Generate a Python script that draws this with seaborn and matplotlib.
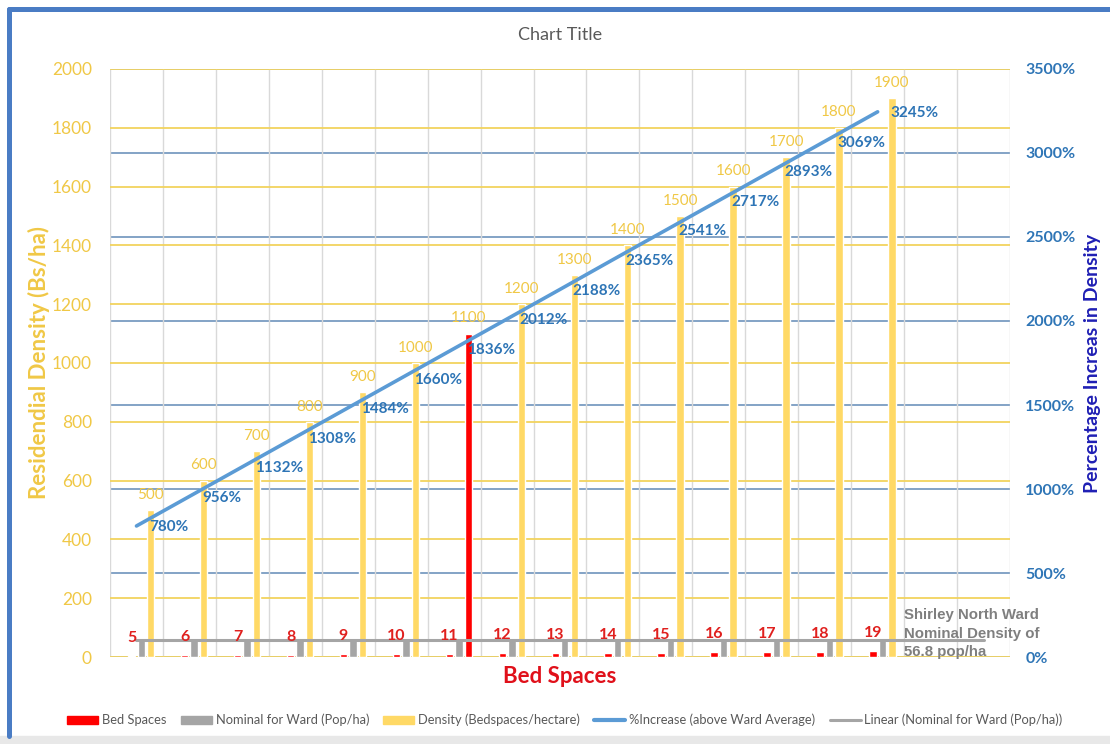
import numpy as np
import pandas as pd
import matplotlib
matplotlib.use('Agg')
import matplotlib.pyplot as plt
from matplotlib.patches import Patch, Rectangle
from matplotlib.lines import Line2D
import seaborn as sns

# data
beds = [5, 6, 7, 8, 9, 10, 11, 12, 13, 14, 15, 16, 17, 18, 19]
density = [500, 600, 700, 800, 900, 1000, 1100, 1200, 1300, 1400, 1500, 1600, 1700, 1800, 1900]
pct_increase = [780, 956, 1132, 1308, 1484, 1660, 1836, 2012, 2188, 2365, 2541, 2717, 2893, 3069, 3245]
nominal_ward = 56.8
highlight_bed = 11
extra_cats = ['20', '21']   # empty slots at the right end of the axis

series_names = ['Bed Spaces', 'Nominal for Ward (Pop/ha)', 'Density (Bedspaces/hectare)']
line_name = '%Increase (above Ward Average)'
trend_name = 'Linear (Nominal for Ward (Pop/ha))'
note_lines = ['Shirley North Ward', 'Nominal Density of', '56.8 pop/ha']

RED = '#FF0000'
GRAY = '#A5A5A5'
YELLOW = '#FFD966'
BLUE = '#5B9BD5'
YEL_TXT = '#F0C846'
PCT_TXT = '#2E75B6'

cats = [str(b) for b in beds]
all_cats = cats + extra_cats

df = pd.DataFrame({
    'cat': cats * 3,
    'series': np.repeat(series_names, len(beds)),
    'value': beds + [nominal_ward] * len(beds) + density,
})

sns.set_style('white')
plt.rcParams['font.family'] = ['Lato', 'DejaVu Sans']

fig = plt.figure(figsize=(11.1, 7.44), dpi=100)
ax = fig.add_axes([0.0991, 0.1169, 0.8108, 0.7904])
ax3 = ax.twinx()   # only carries the right-axis grid, behind the bars
ax2 = ax.twinx()
ax3.set_zorder(0)
ax.set_zorder(1)
ax2.set_zorder(2)
ax.patch.set_visible(False)
ax2.patch.set_visible(False)

sns.barplot(data=df, x='cat', y='value', hue='series', order=all_cats,
            hue_order=series_names, palette=[RED, GRAY, YELLOW],
            width=0.54, saturation=1, legend=False, ax=ax)

# slimmer bars with gaps, group nudged right like Excel
for cont in ax.containers:
    for bar in cont:
        c = bar.get_x() + bar.get_width() / 2 + 0.09
        bar.set_width(0.14)
        bar.set_x(c - 0.07)

hi = cats.index(str(highlight_bed))
ax.containers[2][hi].set_facecolor(RED)

# trend line of the nominal density
sns.pointplot(x=all_cats, y=[nominal_ward] * len(all_cats), order=all_cats,
              color=GRAY, markers='', errorbar=None, linewidth=2.2, ax=ax)

# % increase line
sns.pointplot(x=cats, y=pct_increase, order=all_cats, color=BLUE,
              markers='', errorbar=None, linewidth=2.6, ax=ax2)

# labels
for bar in ax.containers[0]:
    ax.annotate(f'{bar.get_height():.0f}', (bar.get_x() + bar.get_width() / 2, bar.get_height()),
                xytext=(0, 13), textcoords='offset points', ha='center', va='center',
                color='#E0201E', fontsize=11.5, fontweight='bold')
for bar in ax.containers[2]:
    ax.annotate(f'{bar.get_height():.0f}', (bar.get_x() + bar.get_width() / 2, bar.get_height()),
                xytext=(0, 11), textcoords='offset points', ha='center', va='center',
                color=YEL_TXT, fontsize=11)
for x, y in ax2.lines[0].get_xydata():
    if np.isnan(y):
        continue
    ax2.annotate(f'{y:.0f}%', (x, y), xytext=(9, -1), textcoords='offset points',
                 ha='left', va='center', color=PCT_TXT, fontsize=11, fontweight='bold')

for k, line in enumerate(note_lines):
    ax.annotate(line, (14.5, 80), xytext=(0, 13.3 * (1 - k)), textcoords='offset points',
                ha='left', va='center', color='#7F7F7F', fontsize=10.8,
                fontweight='bold', family='Liberation Sans')

# axes
ax.set_ylim(0, 2000)
ax.set_yticks(np.arange(0, 2001, 200))
ax2.set_ylim(0, 3500)
ax2.set_yticks(np.arange(0, 3501, 500))
ax2.set_yticklabels([f'{v}%' for v in range(0, 3501, 500)])
ax3.set_ylim(0, 3500)
ax3.set_yticks(np.arange(0, 3501, 500))
ax3.set_yticklabels([])

n = len(all_cats)
for a in (ax, ax2, ax3):
    a.set_xlim(-0.5, n - 0.5)
    for s in a.spines.values():
        s.set_visible(False)
ax.set_xticks([])
ax.set_xticks(np.arange(n + 1) - 0.5, minor=True)
ax.tick_params(which='both', length=0)
ax.tick_params(axis='y', colors=YEL_TXT, labelsize=12.5, pad=13)
ax2.tick_params(axis='y', length=0, colors=PCT_TXT, labelsize=11.5, pad=11)
for t in ax2.get_yticklabels():
    t.set_fontweight('bold')
ax3.tick_params(length=0)

ax.set_axisbelow(True)
ax.grid(False)
ax.yaxis.grid(True, color='#F2D35E', lw=1.3)
ax.xaxis.grid(True, which='minor', color='#D9D9D9', lw=1)
ax3.grid(False)
ax3.yaxis.grid(True, color='#7A9CC2', lw=1.3)
ax2.grid(False)

ax.set_xlabel('Bed Spaces', color='#E0101A', fontsize=16, fontweight='bold', labelpad=3)
ax.set_ylabel('Residendial Density (Bs/ha)', color=YEL_TXT, fontsize=16,
              fontweight='bold', labelpad=1)
ax2.set_ylabel('Percentage Increas in Density', color='#1F1FB4', fontsize=14,
               fontweight='bold', labelpad=6)
ax2.set_xlabel('')

fig.text(0.505, 1 - 35 / 744, 'Chart Title', ha='center', va='center',
         color='#595959', fontsize=13)

handles = [Patch(color=RED), Patch(color=GRAY), Patch(color=YELLOW),
           Line2D([], [], color=BLUE, lw=3), Line2D([], [], color=GRAY, lw=2.2)]
fig.legend(handles, series_names + [line_name, trend_name], loc='center',
           bbox_to_anchor=(0.509, 1 - 720 / 744), ncol=5, frameon=False,
           fontsize=9.3, labelcolor='#595959', handlelength=2.4, handleheight=0.55,
           columnspacing=1.1, handletextpad=0.3)

# outer frame bits of the screenshot
fig.add_artist(Rectangle((0, 0), 1, 8 / 744, transform=fig.transFigure,
                         color='#E8E8E8', zorder=0))
fig.add_artist(Line2D([8.5 / 1110] * 2, [8 / 744, 1 - 8.5 / 744], transform=fig.transFigure,
                      color='#4A7CC4', lw=3.6))
fig.add_artist(Line2D([8.5 / 1110, 1], [1 - 8.5 / 744] * 2, transform=fig.transFigure,
                      color='#4A7CC4', lw=3.6))

fig.savefig('out.png', dpi=100)
